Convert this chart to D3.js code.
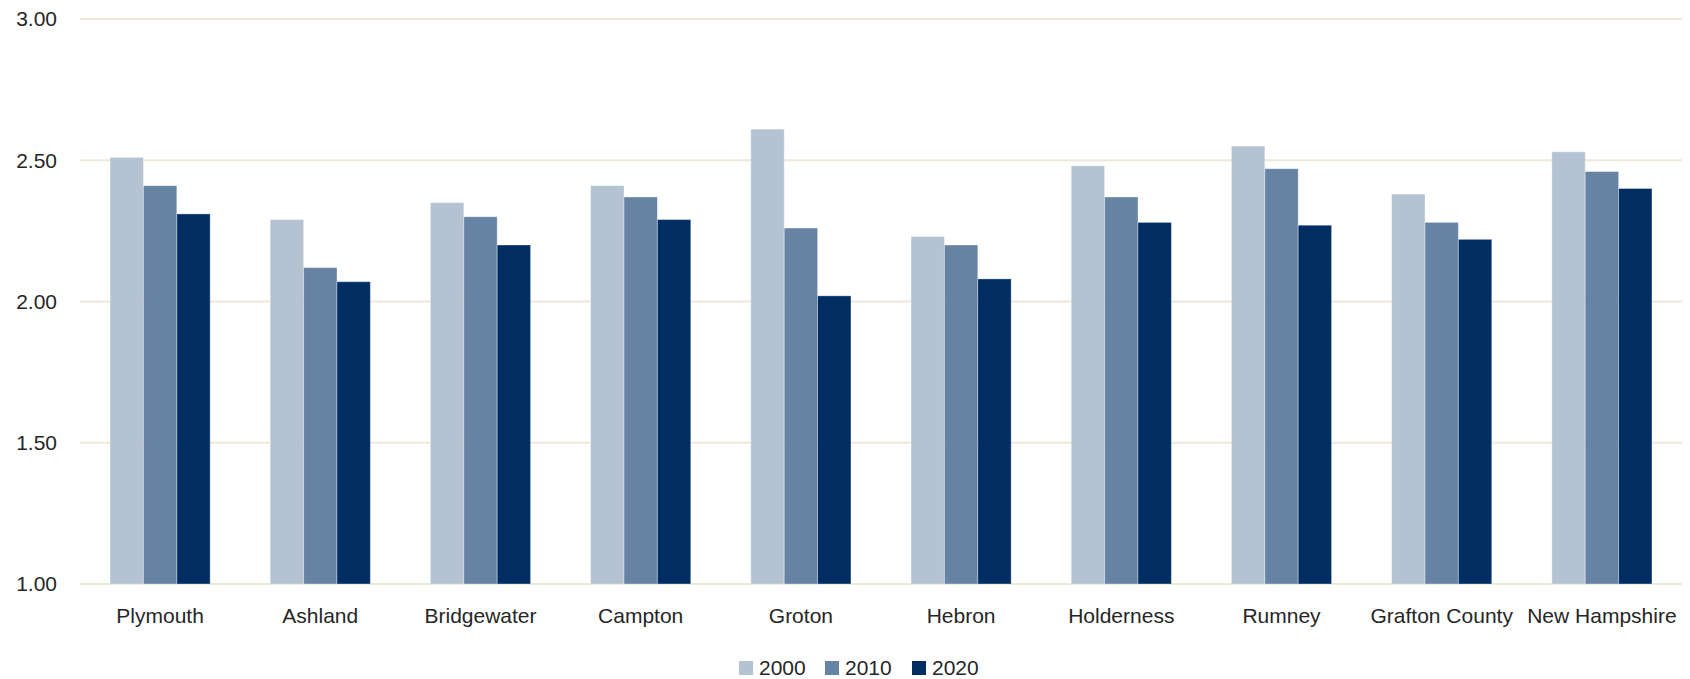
<!DOCTYPE html>
<html>
<head>
<meta charset="utf-8">
<script src="https://cdn.jsdelivr.net/npm/d3@7"></script>
<style>
  body { margin: 0; background: #fff; }
  text { font-family: "Liberation Sans", Arial, sans-serif; fill: #262626; }
</style>
</head>
<body>
<div id="chart"></div>
<script>
var places = ["Plymouth", "Ashland", "Bridgewater", "Campton", "Groton", "Hebron",
              "Holderness", "Rumney", "Grafton County", "New Hampshire"];
var years = ["2000", "2010", "2020"];
var v2000 = [2.51, 2.29, 2.35, 2.41, 2.61, 2.23, 2.48, 2.55, 2.38, 2.53];
var v2010 = [2.41, 2.12, 2.30, 2.37, 2.26, 2.20, 2.37, 2.47, 2.28, 2.46];
var v2020 = [2.31, 2.07, 2.20, 2.29, 2.02, 2.08, 2.28, 2.27, 2.22, 2.40];
var yTicks = [1.0, 1.5, 2.0, 2.5, 3.0];

var series = [v2000, v2010, v2020];
var colors = ["#b4c2d2", "#6783a4", "#002d62"];

var svgWidth = 1690, svgHeight = 679;
var plotLeft = 80, plotRight = 1682, plotTop = 19, plotBottom = 584;

var svg = d3.select("#chart").append("svg")
    .attr("width", svgWidth)
    .attr("height", svgHeight);

var x0 = d3.scaleBand()
    .domain(places)
    .range([plotLeft, plotRight])
    .paddingInner(0.375)
    .paddingOuter(0.1875);

var x1 = d3.scaleBand()
    .domain(years)
    .range([0, x0.bandwidth()]);

var y = d3.scaleLinear()
    .domain([1, 3])
    .range([plotBottom, plotTop]);

// gridlines
svg.append("g")
  .selectAll("line")
  .data(yTicks)
  .enter().append("line")
    .attr("x1", plotLeft)
    .attr("x2", plotRight)
    .attr("y1", function(d) { return y(d); })
    .attr("y2", function(d) { return y(d); })
    .attr("stroke", "#efe7da")
    .attr("stroke-width", 2);

// y labels
svg.append("g")
  .selectAll("text")
  .data(yTicks)
  .enter().append("text")
    .attr("x", 57)
    .attr("y", function(d) { return y(d); })
    .attr("dy", "0.35em")
    .attr("text-anchor", "end")
    .style("font-size", "21px")
    .text(function(d) { return d3.format(".2f")(d); });

// bars
var groups = svg.append("g")
  .selectAll("g")
  .data(places)
  .enter().append("g")
    .attr("transform", function(d) { return "translate(" + x0(d) + ",0)"; });

groups.selectAll("rect")
  .data(function(d, i) {
      return years.map(function(yr, k) { return {year: yr, value: series[k][i], k: k}; });
  })
  .enter().append("rect")
    .attr("x", function(d) { return x1(d.year); })
    .attr("width", x1.bandwidth())
    .attr("y", function(d) { return y(d.value); })
    .attr("height", function(d) { return y(1) - y(d.value); })
    .attr("fill", function(d) { return colors[d.k]; })
    .attr("stroke", "rgba(255,255,255,0.35)")
    .attr("stroke-width", 1);

// x labels
svg.append("g")
  .selectAll("text")
  .data(places)
  .enter().append("text")
    .attr("x", function(d) { return x0(d) + x0.bandwidth() / 2; })
    .attr("y", 623)
    .attr("text-anchor", "middle")
    .style("font-size", "21px")
    .text(function(d) { return d; });

// legend
var legendX = [739, 825, 912];
var legend = svg.append("g")
  .selectAll("g")
  .data(years)
  .enter().append("g")
    .attr("transform", function(d, i) { return "translate(" + legendX[i] + ",661)"; });

legend.append("rect")
    .attr("width", 14)
    .attr("height", 14)
    .attr("fill", function(d, i) { return colors[i]; });

legend.append("text")
    .attr("x", 20)
    .attr("y", 14)
    .style("font-size", "21px")
    .text(function(d) { return d; });
</script>
</body>
</html>
